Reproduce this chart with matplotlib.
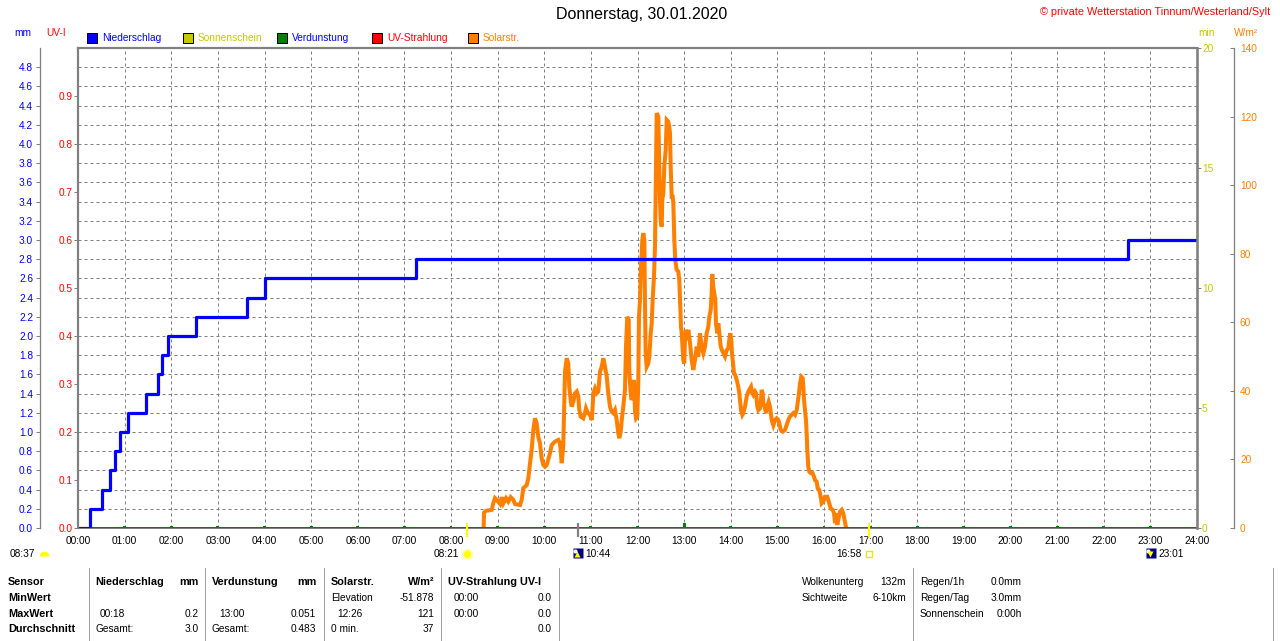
import matplotlib
matplotlib.use('Agg')
import matplotlib.pyplot as plt
from matplotlib.patches import Rectangle
from matplotlib.lines import Line2D
from matplotlib.transforms import blended_transform_factory, offset_copy

plt.rcParams['font.family'] = ['Liberation Sans', 'DejaVu Sans']

# --- Daten ---
hour_labels = ['%02d:00' % h for h in range(25)]

# Niederschlag, Tagessumme (mm), Zeitpunkt jeder Stufe
rain_times = ['00:00', '00:16', '00:31', '00:41', '00:48', '00:54', '01:04', '01:28', '01:43',
              '01:48', '01:56', '02:32', '03:38', '04:01', '07:15', '22:31', '24:00']
rain_sum = [0.0, 0.2, 0.4, 0.6, 0.8, 1.0, 1.2, 1.4, 1.6, 1.8, 2.0, 2.2, 2.4, 2.6, 2.8, 3.0, 3.0]

# Verdunstung je Stunde (mm)
evap_hours = [1, 2, 3, 4, 5, 6, 7, 8, 9, 10, 11, 12, 13, 14, 15, 16, 17, 18, 19, 20, 21, 22, 23]
evap_mm = [0.02, 0.02, 0.02, 0.02, 0.02, 0.02, 0.02, 0.02, 0.02, 0.02, 0.02, 0.02, 0.051,
           0.02, 0.02, 0.02, 0.02, 0.02, 0.02, 0.02, 0.02, 0.02, 0.02]

# Solarstrahlung: (Minute des Tages, W/m2)
solar_readings = [
    (522, 0), (522.5, 4.5), (525, 5), (532.4, 5.3), (534.4, 7.2), (536.6, 8.7), (538.8, 8.2),
    (543.1, 7), (545.2, 9), (547.3, 7.2), (550.8, 8.7), (553.7, 7.7), (556.8, 9), (560.2, 8.2),
    (562.4, 7), (568.8, 6.7), (571, 8.2), (573, 11.6), (577.4, 12.5), (579.5, 14.5), (581.7, 18.9),
    (583.8, 22.8), (585.9, 28.6), (588.1, 32), (590.3, 30.5), (592.3, 26.6), (594.5, 24.7),
    (596.7, 20.3), (598.8, 18.4), (601, 17.9), (603.2, 18.4), (607.4, 21.8), (609.6, 24.2),
    (613.8, 25.2), (618.1, 25.7), (620.3, 24.7), (622.5, 18.9), (624.5, 24.2), (626.7, 45.6),
    (628.9, 49.5), (630.9, 48), (632.2, 41.2), (634, 37.3), (635.3, 35.4), (637.4, 36.8),
    (639.6, 39.3), (641.8, 39.8), (643.8, 38.3), (645.1, 34.4), (646.9, 32.5), (650.2, 32),
    (652.4, 33.5), (653.7, 34.9), (655.4, 33.9), (656.7, 33.5), (658.9, 33), (661, 31.5),
    (662.3, 35.4), (663.1, 39.3), (665.3, 40.7), (667.5, 39.3), (669.6, 39.8), (671.7, 45.6),
    (673.9, 47), (676, 49.5), (678.2, 47), (680.4, 44.1), (682.4, 39.3), (684.6, 35.4),
    (686.8, 33.9), (688.9, 33.5), (691, 34.4), (693.2, 31.5), (695.3, 27.6), (696.6, 26.2),
    (698.4, 28.1), (699.7, 31.5), (701.7, 35.4), (703.9, 40.3), (705.2, 52.9), (706.9, 61.6),
    (708.7, 60.7), (709.4, 46.1), (711.2, 39.3), (712.5, 37.3), (713.8, 39.3), (715.5, 43.2),
    (716.8, 33.9), (718.1, 32), (719.7, 32.5), (721, 42.2), (721.9, 61.6), (723.2, 66.5),
    (724.5, 76.2), (726.2, 84), (727.5, 86), (728.8, 84), (729.6, 66.5), (730.5, 51),
    (731.8, 47), (733.9, 48), (735.2, 50), (737, 56.8), (738.3, 59.7), (739.5, 66.5),
    (741.2, 73.3), (742.5, 82), (743.8, 105.4), (744.7, 121), (746.8, 120), (748.1, 105.4),
    (748.9, 95.7), (749.8, 89.8), (751.1, 87.9), (751.9, 95.7), (753.2, 97.6), (754.5, 105.4),
    (756.3, 110.3), (757.6, 119), (759.6, 118.5), (760.9, 117), (761.8, 115.1), (762.7, 105.4),
    (764, 96.6), (765.3, 96.6), (766.1, 94.7), (767.4, 84), (768.6, 78.2), (770.4, 75.3),
    (772.5, 74.8), (773.8, 72.3), (774.7, 66.5), (776, 58.7), (776.9, 56.8), (778.2, 51.9),
    (778.9, 49), (780.2, 48), (781.1, 54.8), (782.4, 57.8), (784.1, 54.8), (785.4, 57.8),
    (787.6, 53.9), (789.7, 49), (791.8, 46.1), (794, 49), (796.2, 52.9), (798.2, 50),
    (800.4, 56.8), (802.6, 52.9), (804.7, 51), (806.9, 52.9), (809, 56.8), (811.1, 58.7),
    (812.4, 61.6), (814.2, 63.6), (815.5, 68.5), (816.2, 74.1), (817.5, 70.4), (818.8, 68.5),
    (820.1, 66.5), (821, 59.7), (822.7, 56.8), (824, 59.7), (825.3, 56.8), (827.1, 52.9),
    (828.7, 51.9), (830.4, 51), (832.6, 50), (834.8, 51.9), (836.8, 52.4), (838.1, 54.8),
    (839.4, 56.8), (840.7, 54.8), (841.6, 51), (842.5, 49), (844.2, 45.1), (845.8, 44.6),
    (847.7, 43.2), (849.7, 41.2), (851, 39.3), (851.9, 37.3), (853.2, 34.4), (854.9, 33),
    (856.1, 33.5), (858.3, 35.4), (860.5, 38.3), (862.6, 39.8), (864.8, 40.7), (866.1, 41.2),
    (867.7, 39.3), (869, 38.8), (871.2, 39.8), (872.5, 39.3), (874.2, 35.4), (875.5, 34.4),
    (877.6, 34.9), (878.9, 37.3), (879.8, 40.3), (881.1, 39.3), (881.9, 36.4), (884.1, 34.9),
    (885.4, 33.5), (887, 35.4), (888.8, 36.8), (890.5, 35.4), (892.7, 31.5), (894.8, 30),
    (896.9, 31.5), (899.1, 32), (901.2, 31.5), (902.5, 30.5), (904.3, 28.6), (906.9, 28.1),
    (909.8, 28.6), (911.1, 29.5), (914.1, 31.5), (916.2, 32.5), (918.4, 33), (920.5, 33.5),
    (922.7, 33), (924.9, 34.4), (926.1, 36.4), (927.8, 39.3), (929.1, 42.2), (930.8, 44.1),
    (932.6, 43.7), (933.4, 41.2), (934.3, 37.3), (935.5, 34.4), (936.8, 31.5), (937.7, 27.6),
    (938.5, 22.8), (939.8, 17.9), (941.1, 16.4), (942.9, 16), (945.4, 16), (947.1, 15),
    (948.4, 14), (950.6, 13.5), (951.9, 11.6), (953.9, 11.1), (955.7, 9.1), (957, 7.2),
    (959.1, 7.7), (961.3, 9.1), (964.2, 9.1), (966.8, 7.2), (968.6, 5.7), (971.2, 5.3),
    (972.9, 4.3), (974.2, 1.4), (975.4, 4.3), (976.3, 2.3), (977.1, 0.9), (978.4, 2.3),
    (980.6, 4.8), (982.8, 5.3), (984.8, 4.3), (987, 1.8), (988.3, 0.4), (988.5, 0),
]
solar_min = [m for m, v in solar_readings]
solar_wm2 = [v for m, v in solar_readings]

mm_ticks = [0.0, 0.2, 0.4, 0.6, 0.8, 1.0, 1.2, 1.4, 1.6, 1.8, 2.0, 2.2, 2.4,
            2.6, 2.8, 3.0, 3.2, 3.4, 3.6, 3.8, 4.0, 4.2, 4.4, 4.6, 4.8]
uv_ticks = [0.0, 0.1, 0.2, 0.3, 0.4, 0.5, 0.6, 0.7, 0.8, 0.9]
min_ticks = [0, 5, 10, 15, 20]
wm2_ticks = [0, 20, 40, 60, 80, 100, 120, 140]

sunrise, sunset, day_length = '08:21', '16:58', '08:37'
moonrise, moonset = '10:44', '23:01'

legend_items = [('Niederschlag', '#0000FF', '#0000FF'),
                ('Sonnenschein', '#C8C800', '#C8C800'),
                ('Verdunstung', '#008000', '#0000FF'),
                ('UV-Strahlung', '#FF0000', '#FF0000'),
                ('Solarstr.', '#FF8000', '#FF8000')]

# --- Layout ---
W, H = 1280, 641
PT = 72 / 100
FS = 7.3
GREY = '#808080'
BLUE = '#0000FF'
ORANGE = '#FF8000'
YELLOW = '#C8C800'
GREEN = '#008000'
RED = '#FF0000'


def hm(s):
    h, m = s.split(':')
    return int(h) + int(m) / 60


def fx(x):
    return x / W


def fy(y):
    return 1 - y / H


fig = plt.figure(figsize=(W / 100, H / 100), dpi=100)
fig.patch.set_facecolor('white')

ax = fig.add_axes([fx(78), fy(528), 1119 / W, 480 / H])
ax_w = ax.twinx()
ax_r = ax.twinx()
ax_uv = ax.twinx()
ax_min = ax.twinx()

# Grundachse: mm-Skala und Gitter
ax.set_xlim(0, 24)
ax.set_ylim(0, 5)
ax.spines['right'].set_visible(False)
ax.spines['top'].set_color(GREY)
ax.spines['top'].set_linewidth(2.2 * PT)
ax.spines['bottom'].set_color(GREY)
ax.spines['bottom'].set_linewidth(2 * PT)
ax.spines['left'].set_position(('outward', 38 * PT))
ax.spines['left'].set_color(GREY)
ax.spines['left'].set_linewidth(1.3 * PT)
ax.set_yticks(mm_ticks)
ax.set_yticklabels(['%.1f' % v for v in mm_ticks])
ax.tick_params(axis='y', color=GREY, labelcolor=BLUE, length=4 * PT, width=1 * PT,
               pad=3 * PT, labelsize=FS)
ax.set_xticks(range(25))
ax.set_xticklabels(hour_labels)
ax.tick_params(axis='x', length=0, pad=8 * PT, labelsize=FS)
ax.grid(True, color=GREY, linestyle=(0, (3, 3)), linewidth=1 * PT)

# Solarstrahlung
ax_w.set_ylim(0, 140)
for s in ['left', 'top', 'bottom']:
    ax_w.spines[s].set_visible(False)
ax_w.spines['right'].set_position(('outward', 37 * PT))
ax_w.spines['right'].set_color(GREY)
ax_w.spines['right'].set_linewidth(1.3 * PT)
ax_w.set_yticks(wm2_ticks)
ax_w.tick_params(axis='y', direction='in', color=GREY, labelcolor=ORANGE,
                 length=4 * PT, width=1 * PT, pad=6 * PT, labelsize=FS)
ax_w.plot([m / 60 for m in solar_min], solar_wm2, color=ORANGE, lw=2.9,
          solid_joinstyle='miter')

# Niederschlag + Verdunstung
ax_r.set_ylim(0, 5)
for s in ax_r.spines.values():
    s.set_visible(False)
ax_r.set_yticks([])
ax_r.axhline(0, color=GREEN, lw=2 * PT)
ax_r.bar(evap_hours, evap_mm, width=0.06, color=GREEN)
ax_r.step([hm(t) for t in rain_times], rain_sum, where='post', color=BLUE, lw=2.3)

# UV-Index links am Rahmen
ax_uv.set_ylim(0, 1)
for s in ['right', 'top', 'bottom']:
    ax_uv.spines[s].set_visible(False)
ax_uv.spines['left'].set_color(GREY)
ax_uv.spines['left'].set_linewidth(2.2 * PT)
ax_uv.yaxis.tick_left()
ax_uv.set_yticks(uv_ticks)
ax_uv.set_yticklabels(['%.1f' % v for v in uv_ticks])
ax_uv.tick_params(axis='y', color=GREY, labelcolor=RED, length=4 * PT, width=1 * PT,
                  pad=1 * PT, labelsize=FS)

# Sonnenschein-Minuten rechts am Rahmen
ax_min.set_ylim(0, 20)
for s in ['left', 'top', 'bottom']:
    ax_min.spines[s].set_visible(False)
ax_min.spines['right'].set_color(GREY)
ax_min.spines['right'].set_linewidth(2.6 * PT)
ax_min.set_yticks(min_ticks)
ax_min.tick_params(axis='y', color=GREY, labelcolor=YELLOW, length=4 * PT, width=1 * PT,
                   pad=1 * PT, labelsize=FS)

# Sonnen-/Mondereignisse unter der Achse
tr_ax = blended_transform_factory(ax_min.transData, ax_min.transAxes)
for t, c in [(sunrise, '#FFFF00'), (moonrise, GREY), (sunset, '#FFFF00')]:
    ax_min.plot([hm(t), hm(t)], [0.0104, -0.0188], transform=tr_ax, color=c,
                lw=2.2 * PT, clip_on=False, solid_capstyle='butt')

tr_fig = blended_transform_factory(ax_min.transData, fig.transFigure)
yi = fy(554)
ax_min.plot(hm(sunrise), yi, transform=tr_fig, marker='o', ms=8, mfc='#FFFFA0', mec='none',
            clip_on=False)
ax_min.plot(hm(sunrise), yi, transform=tr_fig, marker='o', ms=5, mfc='#FFFF00', mec='none',
            clip_on=False)
ax_min.text(hm(sunrise), yi, sunrise, ha='right', va='center', fontsize=FS,
            transform=offset_copy(tr_fig, fig, x=-8, units='dots'))
ax_min.plot(hm(sunset), yi, transform=tr_fig, marker='s', ms=5, mfc='none', mec='#E8E800',
            mew=1, clip_on=False)
ax_min.text(hm(sunset), yi, sunset, ha='right', va='center', fontsize=FS,
            transform=offset_copy(tr_fig, fig, x=-7, units='dots'))
for t, arrow in [(moonrise, '^'), (moonset, 'v')]:
    ax_min.plot(hm(t), fy(553), transform=tr_fig, marker='s', ms=7.8, mfc='#000080',
                mec='none', clip_on=False)
    ax_min.plot(hm(t), fy(551), transform=offset_copy(tr_fig, fig, x=-3, units='dots'),
                marker='o', ms=3, mfc='white', mec='none', clip_on=False)
    ax_min.plot(hm(t), fy(554), transform=offset_copy(tr_fig, fig, x=-1, units='dots'),
                marker=arrow, ms=4, mfc='#FFFF00', mec='none', clip_on=False)
    ax_min.text(hm(t), yi, t, ha='left', va='center', fontsize=FS,
                transform=offset_copy(tr_fig, fig, x=7, units='dots'))

fig.text(fx(10), fy(554), day_length, ha='left', va='center', fontsize=FS)
fig.add_artist(Line2D([fx(44)], [fy(556)], marker='o', ms=7, fillstyle='top',
                      mfc='#FFFF00', markerfacecoloralt='none', mec='none'))

# Kopfzeile
fig.text(fx(642), fy(15), 'Donnerstag, 30.01.2020', ha='center', va='center', fontsize=11.5)
fig.text(fx(1270), fy(12), '\u00a9 private Wetterstation Tinnum/Westerland/Sylt', ha='right',
         va='center', fontsize=7.8, color=RED)
fig.text(fx(14), fy(33), 'mm', ha='left', va='center', fontsize=FS, color=BLUE)
fig.text(fx(46), fy(33), 'UV-I', ha='left', va='center', fontsize=FS, color=RED)
fig.text(fx(1198), fy(33), 'min', ha='left', va='center', fontsize=FS, color=YELLOW)
fig.text(fx(1234), fy(33), 'W/m\u00b2', ha='left', va='center', fontsize=FS, color=ORANGE)

legend_x = [87, 183, 277, 372, 468]
for (label, c, tc), x0 in zip(legend_items, legend_x):
    fig.add_artist(Rectangle((fx(x0), fy(43)), 10 / W, 10 / H, facecolor=c, edgecolor='black',
                             lw=1 * PT, transform=fig.transFigure))
    fig.text(fx(x0 + 15), fy(38), label, ha='left', va='center', fontsize=FS, color=tc)

# Tabelle unten
rows_y = [582, 598, 614, 629]
for x in [89, 205, 324, 441, 559, 913, 1273]:
    fig.add_artist(Line2D([fx(x), fx(x)], [fy(568), fy(641)], color='#A0A0A0', lw=1 * PT))

bold_cells = [(8, 0, 'Sensor', 'left'), (8, 1, 'MinWert', 'left'), (8, 2, 'MaxWert', 'left'),
              (8, 3, 'Durchschnitt', 'left'),
              (95, 0, 'Niederschlag', 'left'), (199, 0, 'mm', 'right'),
              (212, 0, 'Verdunstung', 'left'), (316, 0, 'mm', 'right'),
              (331, 0, 'Solarstr.', 'left'), (434, 0, 'W/m\u00b2', 'right'),
              (448, 0, 'UV-Strahlung UV-I', 'left')]
cells = [(100, 2, '00:18', 'left'), (199, 2, '0.2', 'right'),
         (95, 3, 'Gesamt:', 'left'), (199, 3, '3.0', 'right'),
         (219, 2, '13:00', 'left'), (316, 2, '0.051', 'right'),
         (212, 3, 'Gesamt:', 'left'), (316, 3, '0.483', 'right'),
         (331, 1, 'Elevation', 'left'), (434, 1, '-51.878', 'right'),
         (337, 2, '12:26', 'left'), (434, 2, '121', 'right'),
         (331, 3, '0 min.', 'left'), (434, 3, '37', 'right'),
         (454, 1, '00:00', 'left'), (552, 1, '0.0', 'right'),
         (454, 2, '00:00', 'left'), (552, 2, '0.0', 'right'),
         (552, 3, '0.0', 'right'),
         (802, 0, 'Wolkenunterg', 'left'), (906, 0, '132m', 'right'),
         (802, 1, 'Sichtweite', 'left'), (906, 1, '6-10km', 'right'),
         (920, 0, 'Regen/1h', 'left'), (1022, 0, '0.0mm', 'right'),
         (920, 1, 'Regen/Tag', 'left'), (1022, 1, '3.0mm', 'right'),
         (920, 2, 'Sonnenschein', 'left'), (1022, 2, '0:00h', 'right')]
for x, r, s, ha in bold_cells:
    fig.text(fx(x), fy(rows_y[r]), s, ha=ha, va='center', fontsize=7.8, fontweight='bold')
for x, r, s, ha in cells:
    fig.text(fx(x), fy(rows_y[r]), s, ha=ha, va='center', fontsize=FS)

fig.savefig('out.png', dpi=100, facecolor='white')
